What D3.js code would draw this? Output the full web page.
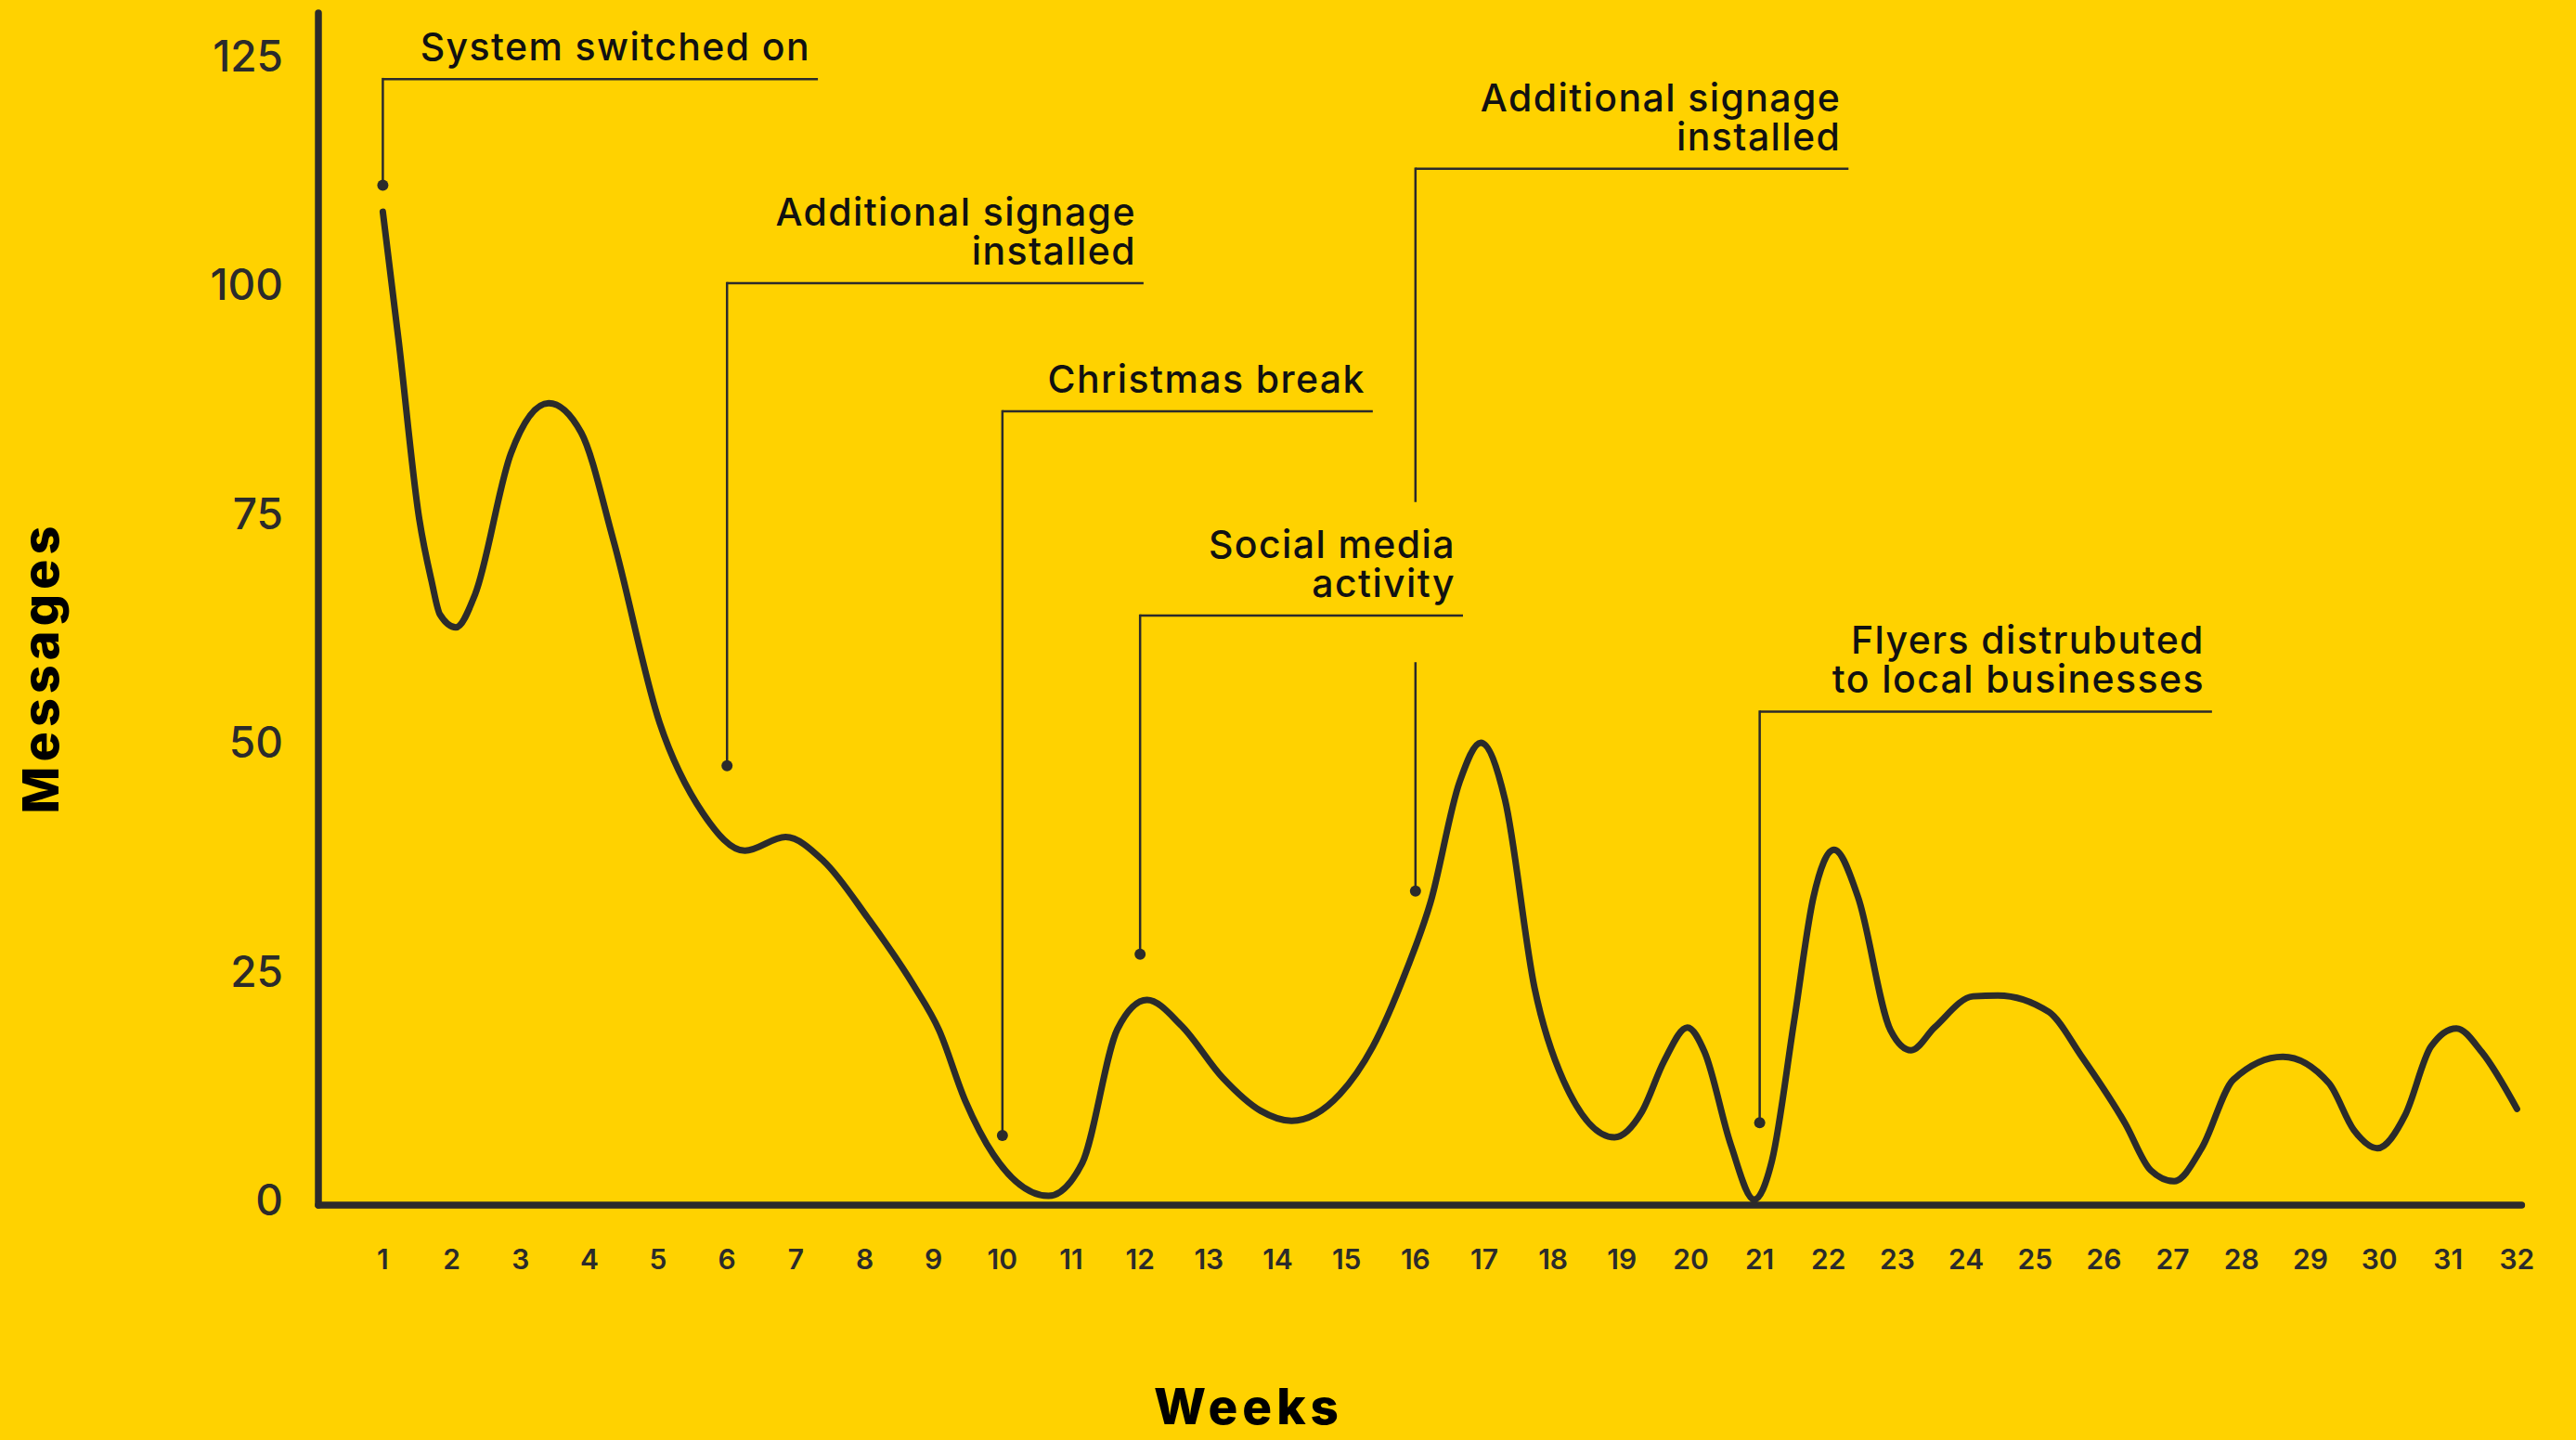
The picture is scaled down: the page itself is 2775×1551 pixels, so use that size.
<!DOCTYPE html>
<html>
<head>
<meta charset="utf-8">
<script src="https://cdn.jsdelivr.net/npm/d3@7"></script>
<style>
  html, body { margin: 0; padding: 0; background: #FFD200; }
  svg { display: block; }
</style>
</head>
<body>
<script>
// ---------- data ----------
const weeks = [1, 1.23, 1.53, 1.71, 1.83, 2.06, 2.34, 2.86, 3.41, 3.88, 4.35, 5.02, 5.65, 6.26, 6.85, 7.4, 8.05, 8.71, 9.08, 9.46, 9.87, 10.67, 11.16, 11.67, 12.1, 12.6, 13.2, 13.75, 14.2, 14.9, 15.38, 15.86, 16.22, 16.64, 16.95, 17.3, 17.73, 18.15, 18.89, 19.29, 19.61, 19.95, 20.2, 20.58, 20.92, 21.18, 21.5, 21.78, 22.08, 22.43, 22.9, 23.2, 23.54, 24.1, 24.46, 25.2, 25.67, 26.31, 26.68, 27.02, 27.42, 27.88, 28.6, 29.27, 29.63, 29.97, 30.38, 30.75, 31.12, 31.49, 32];
const messages = [108, 93.9, 74.4, 67.6, 64, 62.6, 66.2, 81.6, 87.1, 83.9, 72.1, 52.2, 42.3, 38.2, 39.7, 37.1, 30.8, 23.5, 18.6, 10.9, 5.0, 0.5, 4.1, 18.7, 21.9, 19.1, 13.4, 9.8, 8.7, 11.6, 16.8, 25, 32.6, 45.7, 50, 43.8, 23.2, 13.1, 6.9, 9.7, 15.2, 18.9, 16.2, 6.1, 0.1, 4.4, 19.6, 33.1, 38.3, 33.1, 18.6, 16.4, 18.9, 22.3, 22.4, 20.6, 15.8, 8.4, 3.3, 2.1, 5.7, 13.2, 15.7, 12.8, 7.7, 5.7, 9.4, 16.8, 18.8, 16.2, 10];
const xTickLabels = d3.range(1, 33);
const yTickLabels = [0, 25, 50, 75, 100, 125];

const annotationWeeks = [1, 6, 10, 12, 16, 21];
const annotationTexts = [
  ["System switched on"],
  ["Additional signage", "installed"],
  ["Christmas break"],
  ["Social media", "activity"],
  ["Additional signage", "installed"],
  ["Flyers distrubuted", "to local businesses"]
];
const annotationValues = [110.9, 47.5, 7.1, 26.9, 33.8, 8.5];

// ---------- layout (positions, not data) ----------
const annotationLevels = [122.5, 100.2, 86.2, 63.9, 112.7, 53.4];   // y of the leader's horizontal bar
const annotationEnds = [7.32, 12.05, 15.38, 16.69, 22.29, 27.57];   // x (in weeks) of the bar's end
const annotationGaps = [null, null, null, null, [58.8, 76.3], null];

const W = 2775, H = 1551;
const ink = "#2b2b2b";
const textInk = "#111";
const fontUI = "Inter, 'Noto Sans', sans-serif";

const svg = d3.select("body").append("svg").attr("width", W).attr("height", H);
svg.append("rect").attr("width", W).attr("height", H).attr("fill", "#FFD200");

const x = d3.scaleLinear().domain([1, 32]).range([412.4, 2711.4]);
const y = d3.scaleLinear().domain([0, 125]).range([1293, 60.5]);

const axisX0 = 343, axisY0 = 1298, axisTop = 14, axisRight = x(32) + 5;

// axes lines
svg.append("line").attr("x1", axisX0).attr("x2", axisX0).attr("y1", axisTop).attr("y2", axisY0)
  .attr("stroke", ink).attr("stroke-width", 7.5).attr("stroke-linecap", "round");
svg.append("line").attr("x1", axisX0).attr("x2", axisRight).attr("y1", axisY0).attr("y2", axisY0)
  .attr("stroke", ink).attr("stroke-width", 7.5).attr("stroke-linecap", "round");

// y tick labels
svg.append("g").selectAll("text").data(yTickLabels).join("text")
  .attr("x", 305).attr("y", d => y(d)).attr("dy", "0.35em")
  .attr("text-anchor", "end")
  .attr("font-family", fontUI).attr("font-size", 46).attr("font-weight", 500)
  .attr("fill", ink).text(d => d);

// x tick labels
svg.append("g").selectAll("text").data(xTickLabels).join("text")
  .attr("x", d => x(d)).attr("y", 1356).attr("dy", "0.35em")
  .attr("text-anchor", "middle")
  .attr("font-family", fontUI).attr("font-size", 30).attr("font-weight", 600)
  .attr("fill", ink).text(d => d);

// axis titles
svg.append("text")
  .attr("transform", "translate(63,719) rotate(-90)")
  .attr("text-anchor", "middle")
  .attr("font-family", fontUI).attr("font-size", 54).attr("font-weight", 800)
  .attr("letter-spacing", 5)
  .attr("fill", "#000").text("Messages");
svg.append("text")
  .attr("x", 1345).attr("y", 1534)
  .attr("text-anchor", "middle")
  .attr("font-family", fontUI).attr("font-size", 53).attr("font-weight", 800)
  .attr("letter-spacing", 5)
  .attr("fill", "#000").text("Weeks");

// the series line
const pts = weeks.map((w, i) => [w, messages[i]]);
const line = d3.line().x(d => x(d[0])).y(d => y(d[1])).curve(d3.curveMonotoneX);
svg.append("path").attr("d", line(pts))
  .attr("fill", "none").attr("stroke", ink).attr("stroke-width", 7)
  .attr("stroke-linecap", "round").attr("stroke-linejoin", "round");

// annotations
const ann = svg.append("g");
annotationWeeks.forEach((w, i) => {
  const ax = x(w);
  const level = y(annotationLevels[i]);
  const endX = x(annotationEnds[i]);
  const dotY = y(annotationValues[i]);
  ann.append("line").attr("x1", ax).attr("x2", endX).attr("y1", level).attr("y2", level)
    .attr("stroke", ink).attr("stroke-width", 2.5);
  const gap = annotationGaps[i];
  if (gap) {
    ann.append("line").attr("x1", ax).attr("x2", ax).attr("y1", level - 1.25).attr("y2", y(gap[1]))
      .attr("stroke", ink).attr("stroke-width", 2.5);
    ann.append("line").attr("x1", ax).attr("x2", ax).attr("y1", y(gap[0])).attr("y2", dotY)
      .attr("stroke", ink).attr("stroke-width", 2.5);
  } else {
    ann.append("line").attr("x1", ax).attr("x2", ax).attr("y1", level - 1.25).attr("y2", dotY)
      .attr("stroke", ink).attr("stroke-width", 2.5);
  }
  ann.append("circle").attr("cx", ax).attr("cy", dotY).attr("r", 6).attr("fill", ink);
  const lines = annotationTexts[i];
  const lh = 42;
  const txt = ann.append("text")
    .attr("text-anchor", "end")
    .attr("font-family", fontUI).attr("font-size", 41).attr("font-weight", 500)
    .attr("letter-spacing", 1.4)
    .attr("fill", textInk);
  lines.forEach((t, j) => {
    txt.append("tspan")
      .attr("x", endX - 8)
      .attr("y", level - 20 - (lines.length - 1 - j) * lh)
      .text(t);
  });
});
</script>
</body>
</html>
